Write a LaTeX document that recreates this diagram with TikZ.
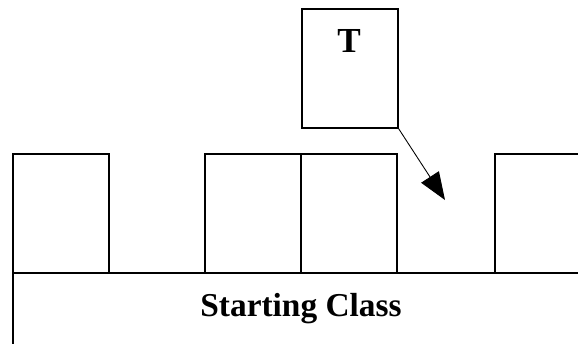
\documentclass[tikz,border=0pt]{standalone}
\usepackage{fontspec}
\setmainfont{Liberation Serif}
\usetikzlibrary{arrows.meta}

\begin{document}
\begin{tikzpicture}[x=0.02cm,y=-0.02cm,>=Triangle,
  slot/.style={draw,line width=0.9pt,minimum width=1.92cm,minimum height=2.38cm,inner sep=0pt,anchor=north west}]
\clip (0,0) rectangle (578,343);
% starting class and its slots
\node[draw,line width=0.9pt,minimum width=12cm,minimum height=2cm,inner sep=0pt,anchor=north west] (base) at (12,272) {};
\node[anchor=base,font=\bfseries\fontsize{19}{22}\selectfont] (base_lbl) at (301,316) {Starting Class};
\node[slot] (s1) at (12,153) {};
\node[slot] (s2) at (204,153) {};
\node[slot] (s3) at (300,153) {};
\node[slot] (s4) at (494,153) {};
% the class T
\node[slot] (t) at (301,8) {};
\node[anchor=base,font=\bfseries\fontsize{20}{24}\selectfont] (t_lbl) at (349,52) {T};
\coordinate (tip) at (445,200);
\draw[-{Triangle[length=0.55cm,width=0.42cm]},line width=0.5pt] (t.south east)--(tip);
\end{tikzpicture}
\end{document}
